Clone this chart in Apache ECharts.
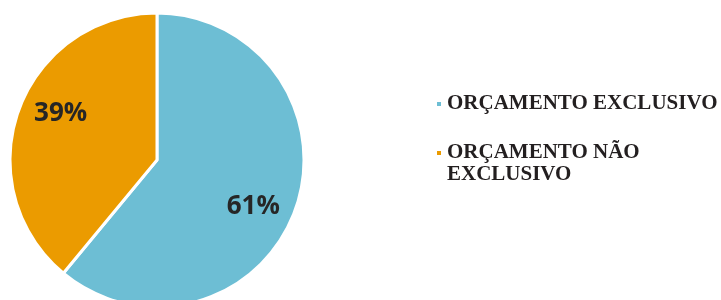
<!DOCTYPE html>
<html>
<head>
<meta charset="utf-8">
<script src="https://cdn.jsdelivr.net/npm/echarts@6/dist/echarts.min.js"></script>
<style>
  html, body { margin: 0; padding: 0; background: #fff; }
  #chart { width: 721px; height: 300px; }
</style>
</head>
<body>
<div id="chart"></div>
<script>
// ── data ────────────────────────────────────────────────
const CATEGORIES = ['ORÇAMENTO EXCLUSIVO', 'ORÇAMENTO NÃO EXCLUSIVO']
const VALUES     = [61, 39]
const COLORS     = ['#6dbed4', '#eb9b00']
// leading blank line keeps the square beside the first text line
const LEGEND_LABELS = ['ORÇAMENTO EXCLUSIVO', '\nORÇAMENTO NÃO\nEXCLUSIVO']

const chart = echarts.init(document.getElementById('chart'), null, { renderer: 'canvas' })

const pieData = CATEGORIES.map((name, i) => ({
  name,
  value: VALUES[i],
  itemStyle: { color: COLORS[i] },
}))

const legendText = {
  color: '#231f20',
  fontFamily: '"Liberation Serif", "Times New Roman", serif',
  fontWeight: 'bold',
  fontSize: 21,
  lineHeight: 22,
}

const legendBase = {
  orient: 'vertical',
  left: 430,
  itemWidth: 6,
  itemHeight: 6,
  icon: 'rect',
  selectedMode: false,
  textStyle: legendText,
}

chart.setOption({
  backgroundColor: '#fff',
  animation: false,
  legend: [
    { ...legendBase, top: 88, data: [CATEGORIES[0]], formatter: () => LEGEND_LABELS[0] },
    { ...legendBase, top: 115, data: [CATEGORIES[1]], formatter: () => LEGEND_LABELS[1] },
  ],
  series: [
    {
      type: 'pie',
      center: [157, 160],
      radius: [0, 147],
      startAngle: 90,
      clockwise: true,
      silent: true,
      label: { show: false },
      labelLine: { show: false },
      itemStyle: { borderColor: '#fff', borderWidth: 3 },
      data: pieData,
    },
    // transparent ring, only carries the % labels a bit further out
    {
      type: 'pie',
      center: [157, 160],
      radius: [61, 147],
      startAngle: 84,
      clockwise: true,
      silent: true,
      itemStyle: { color: 'rgba(0,0,0,0)' },
      label: {
        show: true,
        position: 'inside',
        formatter: '{c}%',
        color: '#262626',
        fontFamily: '"Open Sans", sans-serif',
        fontWeight: 'bold',
        fontSize: 26,
      },
      labelLine: { show: false },
      data: CATEGORIES.map((name, i) => ({ name, value: VALUES[i] })),
    },
  ],
})
</script>
</body>
</html>
